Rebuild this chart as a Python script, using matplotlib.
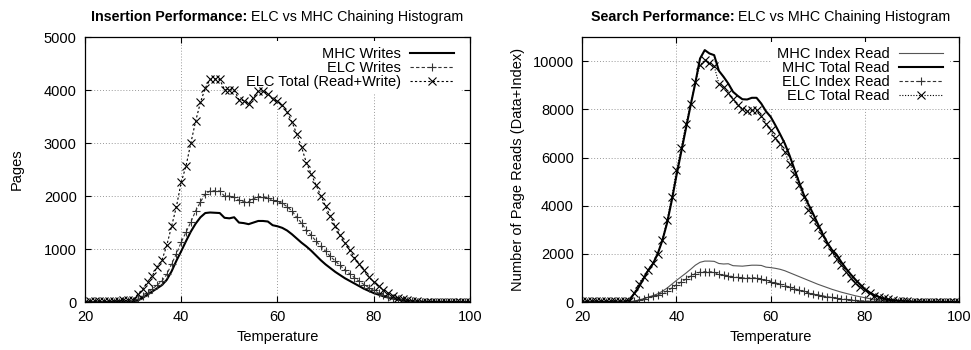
import matplotlib
matplotlib.use("Agg")
import matplotlib.pyplot as plt
import numpy as np

plt.rcParams['font.family'] = ['Liberation Sans', 'DejaVu Sans']
FS = 10.5

temps = list(range(20, 101))

# Insertion panel
mhc_writes = [0, 0, 0, 0, 0, 0, 0, 0, 0, 0,
              5, 30, 80, 140, 200, 260, 320, 420, 580, 780,
              960, 1150, 1330, 1480, 1600, 1680, 1690, 1685, 1680, 1590,
              1580, 1600, 1500, 1490, 1470, 1500, 1530, 1530, 1520, 1450,
              1430, 1400, 1350, 1280, 1200, 1120, 1050, 970, 880, 790,
              710, 640, 570, 510, 450, 400, 350, 300, 250, 210,
              170, 140, 110, 85, 65, 45, 30, 20, 12, 8,
              5, 3, 2, 2, 1, 1, 0, 0, 0, 0, 0]
elc_writes = [5, 5, 5, 10, 10, 10, 10, 10, 15, 15,
              20, 60, 120, 180, 250, 320, 400, 520, 720, 910,
              1130, 1320, 1510, 1720, 1890, 2040, 2095, 2100, 2095, 2000,
              2000, 1980, 1920, 1890, 1890, 1950, 1990, 1990, 1970, 1920,
              1900, 1860, 1800, 1720, 1600, 1490, 1360, 1260, 1150, 1050,
              960, 860, 775, 690, 610, 535, 460, 390, 330, 270,
              220, 170, 130, 95, 70, 50, 35, 25, 15, 10,
              8, 5, 5, 5, 3, 3, 3, 3, 3, 3, 3]
elc_total_rw = [10, 15, 15, 20, 20, 20, 25, 25, 30, 30,
                40, 150, 250, 380, 500, 660, 790, 1070, 1430, 1800,
                2260, 2570, 3000, 3415, 3770, 4040, 4200, 4210, 4200, 4010,
                4010, 4000, 3820, 3800, 3730, 3860, 3980, 3980, 3930, 3830,
                3790, 3710, 3585, 3400, 3175, 2925, 2630, 2420, 2210, 2010,
                1805, 1615, 1430, 1260, 1120, 975, 840, 710, 600, 470,
                380, 300, 230, 170, 120, 75, 50, 30, 20, 15,
                10, 10, 8, 8, 5, 5, 5, 5, 5, 5, 5]

# Search panel
mhc_index = [0, 0, 0, 0, 0, 0, 0, 0, 0, 0,
             5, 30, 80, 140, 200, 270, 340, 450, 580, 740,
             900, 1050, 1200, 1360, 1530, 1650, 1700, 1700, 1690, 1600,
             1580, 1590, 1510, 1500, 1490, 1510, 1530, 1530, 1520, 1450,
             1430, 1400, 1360, 1300, 1220, 1140, 1060, 980, 900, 820,
             740, 670, 600, 530, 470, 410, 360, 310, 260, 220,
             180, 140, 110, 85, 60, 45, 30, 20, 12, 8,
             5, 3, 2, 2, 1, 1, 0, 0, 0, 0, 0]
mhc_total = [10, 10, 10, 10, 10, 10, 10, 10, 15, 20,
             70, 350, 620, 970, 1320, 1590, 2000, 2560, 3280, 4220,
             5260, 6230, 7200, 8170, 9100, 10110, 10460, 10320, 10250, 9600,
             9350, 9070, 8730, 8560, 8420, 8410, 8480, 8480, 8240, 7920,
             7690, 7340, 6970, 6580, 6090, 5540, 4990, 4470, 4060, 3670,
             3250, 2840, 2470, 2170, 1970, 1660, 1390, 1150, 930, 730,
             540, 400, 290, 210, 140, 100, 70, 50, 35, 25,
             15, 10, 8, 5, 5, 3, 3, 2, 2, 2, 2]
elc_index = [5, 5, 5, 5, 5, 5, 10, 10, 10, 15,
             20, 40, 90, 140, 190, 240, 300, 370, 460, 580,
             720, 830, 950, 1080, 1180, 1240, 1260, 1260, 1240, 1150,
             1120, 1100, 1050, 1020, 1000, 1000, 1010, 1000, 960, 900,
             850, 800, 740, 680, 620, 560, 500, 440, 390, 340,
             300, 260, 220, 190, 160, 130, 110, 90, 70, 55,
             45, 35, 25, 20, 15, 10, 8, 5, 5, 5,
             3, 3, 3, 3, 3, 3, 3, 3, 3, 3, 3]
elc_total = [30, 30, 35, 35, 40, 40, 40, 45, 45, 50,
             60, 370, 760, 1040, 1320, 1620, 1980, 2590, 3390, 4380,
             5470, 6400, 7400, 8210, 9140, 9830, 10040, 9930, 9790, 9070,
             8910, 8680, 8410, 8170, 8030, 7920, 7960, 7960, 7710, 7410,
             7130, 6830, 6550, 6230, 5750, 5330, 4850, 4360, 3840, 3460,
             3120, 2770, 2420, 2080, 1800, 1520, 1250, 1000, 790, 620,
             480, 370, 260, 210, 150, 110, 80, 60, 40, 30,
             20, 15, 12, 10, 10, 10, 10, 10, 10, 10, 10]

fig = plt.figure(figsize=(9.71, 3.5), dpi=100)
ax1 = fig.add_axes([0.0875, 0.137, 0.3965, 0.757])
ax2 = fig.add_axes([0.5997, 0.137, 0.3880, 0.757])


def style_axes(ax, ymax, ystep):
    ax.set_xlim(20, 100)
    ax.set_xticks(range(20, 101, 20))
    ax.set_yticks(range(0, ymax + 1, ystep))
    ax.set_ylim(0, ymax)
    ax.set_axisbelow(True)
    ax.tick_params(direction='in', top=True, right=True, length=4.5,
                   width=0.8, labelsize=FS, pad=6, color='black')
    ax.grid(True, color='#999999', linestyle=(0, (1, 2)), linewidth=0.7)
    for s in ax.spines.values():
        s.set_linewidth(0.9)
    ax.set_xlabel('Temperature', fontsize=FS)
    ax.xaxis.set_label_coords(0.5, -0.105)


def two_part_title(ax, bold, rest):
    # bold lead-in followed by normal text, centred over the axes
    r = fig.canvas.get_renderer()
    t1 = fig.text(0, 0.941, bold, fontsize=10.3, weight='bold', va='baseline')
    t2 = fig.text(0, 0.941, rest, fontsize=10.3, va='baseline')
    w1 = t1.get_window_extent(r).width
    w2 = t2.get_window_extent(r).width
    bb = ax.get_window_extent(r)
    x0 = (bb.x0 + bb.x1) / 2 - (w1 + w2) / 2
    fw = fig.get_figwidth() * fig.dpi
    t1.set_x(x0 / fw)
    t2.set_x((x0 + w1) / fw)


# insertion
ax1.plot(temps, mhc_writes, color='black', lw=1.5, label='MHC Writes')
ax1.plot(temps, elc_writes, color='#333333', lw=0.8, ls=(0, (3, 2)),
         marker='+', ms=5.5, mew=0.8, label='ELC Writes')
ax1.plot(temps, elc_total_rw, color='black', lw=0.8, ls=(0, (2, 2)),
         marker='x', ms=5.5, mew=0.8, label='ELC Total (Read+Write)')
style_axes(ax1, 5000, 1000)
ax1.set_ylabel('Pages', fontsize=FS)
ax1.yaxis.set_label_coords(-0.158, 0.5)

# search
ax2.plot(temps, mhc_index, color='#555555', lw=0.8, label='MHC Index Read')
ax2.plot(temps, mhc_total, color='black', lw=1.5, label='MHC Total Read')
ax2.plot(temps, elc_index, color='#333333', lw=0.8, ls=(0, (3, 2)),
         marker='+', ms=5.5, mew=0.8, label='ELC Index Read')
ax2.plot(temps, elc_total, color='black', lw=0.8, ls=(0, (1, 1.5)),
         marker='x', ms=5.5, mew=0.8, label='ELC Total Read')
style_axes(ax2, 10000, 2000)
ax2.set_ylim(0, 11000)
ax2.set_ylabel('Number of Page Reads (Data+Index)', fontsize=FS)
ax2.yaxis.set_label_coords(-0.151, 0.5)

for ax, anchor in ((ax1, (0.974, 0.986)), (ax2, (0.973, 0.983))):
    leg = ax.legend(loc='upper right', bbox_to_anchor=anchor, borderaxespad=0,
                    markerfirst=False, numpoints=1, handlelength=3.0,
                    handletextpad=0.65, labelspacing=0.0, borderpad=0.4,
                    fontsize=FS, frameon=True, fancybox=False)
    leg.get_frame().set_edgecolor('none')
    leg.get_frame().set_facecolor('white')
    leg.get_frame().set_alpha(1)
    leg.set_zorder(1)

two_part_title(ax1, 'Insertion Performance:', ' ELC vs MHC Chaining Histogram')
two_part_title(ax2, 'Search Performance:', ' ELC vs MHC Chaining Histogram')

fig.savefig('out.png', dpi=100)
